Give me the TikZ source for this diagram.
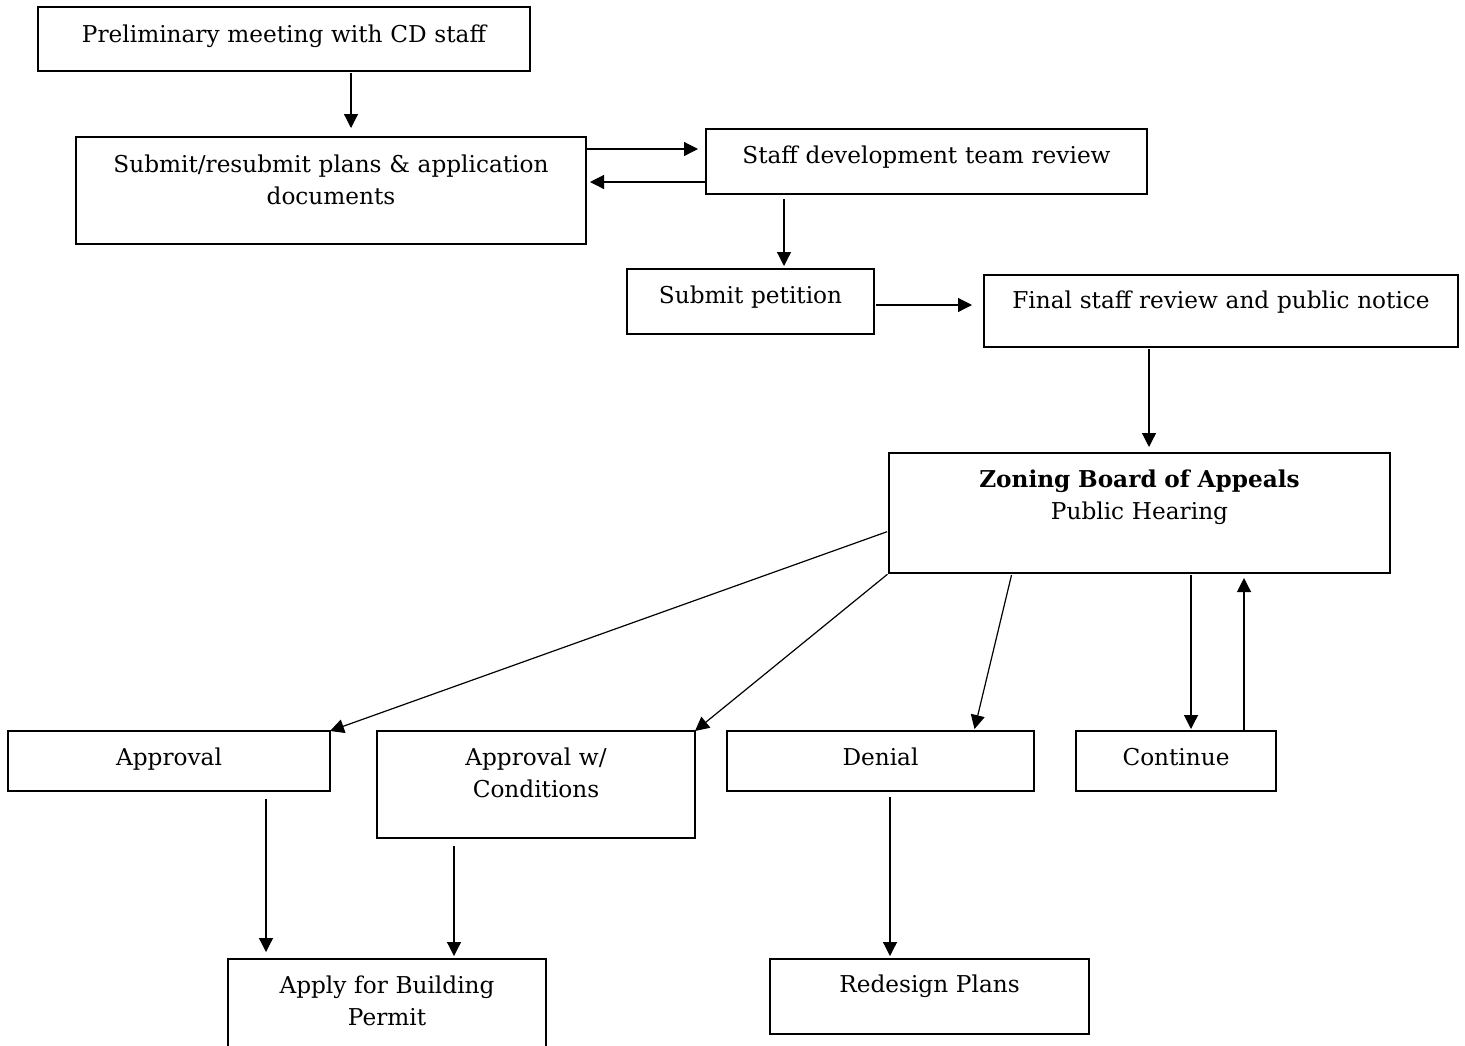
\documentclass[tikz,border=0pt]{standalone}
\usepackage{fontspec}
\setmainfont{DejaVu Serif}
\usetikzlibrary{arrows.meta,positioning}

\tikzset{
  stage/.style={draw, line width=1pt, inner sep=0pt, outer sep=0pt,
    anchor=north west, align=center, font=\fontsize{11.6}{16}\selectfont},
  arr/.style={line width=0.6pt, -{Triangle[length=7pt,width=7pt]}}
}

\begin{document}
\begin{tikzpicture}[x=0.5pt, y=-0.5pt]
  \clip (0,0) rectangle (1465,1045);

  % top row of steps
  \node[stage, text width=246pt, text height=17.5pt, text depth=14.5pt] (prelim) at (38,7) {Preliminary meeting with CD staff};
  \node[stage, text width=255pt, text height=17.5pt, text depth=36pt] (submit) at (76,137) {Submit/resubmit plans \& application\\documents};
  \node[stage, text width=220.5pt, text height=17pt, text depth=15.5pt] (staff) at (706,129) {Staff development team review};
  \node[stage, text width=123.5pt, text height=17pt, text depth=15.5pt] (petition) at (627,269) {Submit petition};
  \node[stage, text width=237pt, text height=16.5pt, text depth=19.5pt] (final) at (984,275) {Final staff review and public notice};
  \node[stage, text width=250.5pt, text height=17pt, text depth=43pt] (zba) at (889,453) {\textbf{Zoning Board of Appeals}\\Public Hearing};

  % outcomes
  \node[stage, text width=161pt, text height=17pt, text depth=13pt] (approval) at (8,731) {Approval};
  \node[stage, text width=159pt, text height=17pt, text depth=36.5pt] (conditions) at (377,731) {Approval w/\\Conditions};
  \node[stage, text width=153.5pt, text height=17pt, text depth=13pt] (denial) at (727,731) {Denial};
  \node[stage, text width=100pt, text height=17pt, text depth=13pt] (continue) at (1076,731) {Continue};
  \node[stage, text width=159pt, text height=17pt, text depth=33.5pt] (permit) at (228,959) {Apply for Building\\Permit};
  \node[stage, text width=159.5pt, text height=16.5pt, text depth=21pt] (redesign) at (770,959) {Redesign Plans};

  % connectors
  \draw[arr, shorten <=1pt, shorten >=4.5pt] (prelim.south -| 351,0) -- (submit.north -| 351,0);
  \draw[arr, shorten >=4pt] (submit.east |- 0,149) -- (staff.west |- 0,149);
  \draw[arr, shorten >=2pt] (staff.west |- 0,182) -- (submit.east |- 0,182);
  \draw[arr, shorten <=2.5pt, shorten >=1.5pt] (staff.south -| 784,0) -- (petition.north -| 784,0);
  \draw[arr, shorten <=1pt, shorten >=6pt] (petition.east |- 0,305) -- (final.west |- 0,305);
  \draw[arr, shorten <=1pt, shorten >=3pt] (final.south -| 1149,0) -- (zba.north -| 1149,0);

  \draw[arr, shorten <=1pt] (zba.west |- 0,531) -- (approval.north east);
  \draw[arr, shorten <=1pt] (zba.south west) -- (conditions.north east);
  \draw[arr, shorten <=1pt, shorten >=1pt] (zba.south -| 1012,0) -- (denial.north -| 974,0);
  \draw[arr, shorten <=1pt, shorten >=1pt] (zba.south -| 1191,0) -- (continue.north -| 1191,0);
  \draw[arr, shorten >=2.5pt] (continue.north -| 1244,0) -- (zba.south -| 1244,0);

  \draw[arr, shorten <=4pt, shorten >=3.5pt] (approval.south -| 266,0) -- (permit.north -| 266,0);
  \draw[arr, shorten <=4pt, shorten >=1.5pt] (conditions.south -| 454,0) -- (permit.north -| 454,0);
  \draw[arr, shorten <=3pt, shorten >=1.5pt] (denial.south -| 890,0) -- (redesign.north -| 890,0);
\end{tikzpicture}
\end{document}
